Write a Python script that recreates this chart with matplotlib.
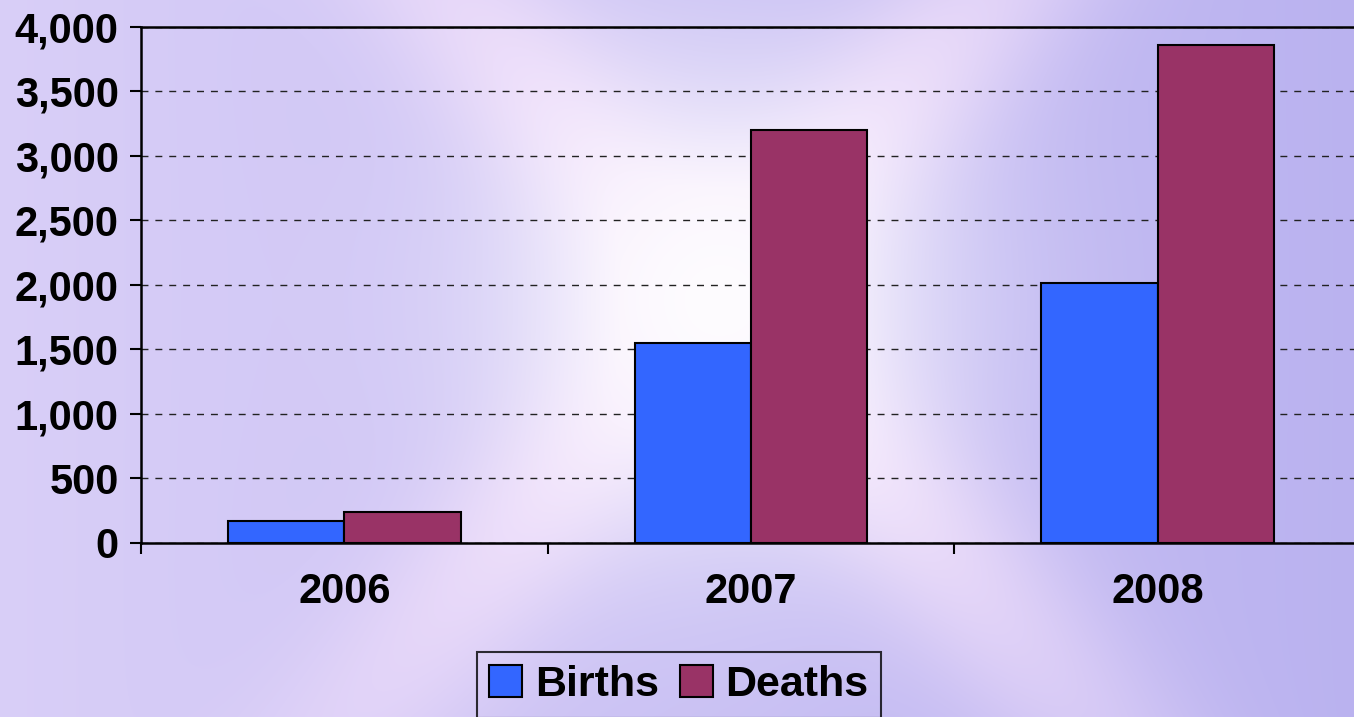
import numpy as np
import matplotlib
matplotlib.use("Agg")
import matplotlib.pyplot as plt
from matplotlib.ticker import FuncFormatter

# data
years = ["2006", "2007", "2008"]
births = [170, 1550, 2015]
deaths = [240, 3200, 3860]
series_names = ["Births", "Deaths"]
series_colors = ["#3366FF", "#993366"]

plt.rcParams['font.family'] = ['Liberation Sans', 'DejaVu Sans']
plt.rcParams['font.weight'] = 'bold'

W, H = 1354, 717
fig = plt.figure(figsize=(W / 100, H / 100), dpi=100)

# lavender backdrop with soft white rays (decoration only)
yy, xx = np.mgrid[0:H, 0:W].astype(float)
cx, cy = 720.0, 300.0
base_l = np.array([0.85, 0.81, 0.97])
base_r = np.array([0.73, 0.70, 0.94])
t = (xx / W)[..., None]
bg = base_l * (1 - t) + base_r * t
d1 = np.abs((xx - cx) * 0.75 - (yy - cy) * 0.66)
d2 = np.abs((xx - cx) * 0.75 + (yy - cy) * 0.66)
r = np.hypot(xx - cx, yy - cy)
rays = np.exp(-(d1 / 90) ** 2) + np.exp(-(d2 / 90) ** 2)
rays = np.clip(rays * np.exp(-(r / 650) ** 2), 0, 1)
pink = np.array([0.98, 0.90, 0.99])
bg = bg * (1 - 0.8 * rays[..., None]) + pink * 0.8 * rays[..., None]
core = np.exp(-(r / 230) ** 2)[..., None]
bg = bg * (1 - 0.9 * core) + 0.9 * core
bax = fig.add_axes([0, 0, 1, 1], zorder=-1)
bax.imshow(np.clip(bg, 0, 1), aspect='auto', interpolation='bilinear')
bax.axis('off')

ax = fig.add_axes([141 / W, 1 - 543 / H, (1361 - 141) / W, (543 - 26.7) / H])
ax.patch.set_alpha(0)

x = np.arange(len(years))
w = 0.286
ax.bar(x - w / 2, births, w, color=series_colors[0], edgecolor='black', linewidth=1.5,
       label=series_names[0], zorder=3)
ax.bar(x + w / 2, deaths, w, color=series_colors[1], edgecolor='black', linewidth=1.5,
       label=series_names[1], zorder=3)

ax.set_xlim(-0.5, 2.5)
ax.set_ylim(0, 4000)
ax.set_yticks(np.arange(0, 4001, 500))
ax.yaxis.set_major_formatter(FuncFormatter(lambda v, p: f"{int(v):,}"))
ax.set_xticks(x)
ax.set_xticklabels(years)
ax.set_xticks([-0.5, 0.5, 1.5, 2.5], minor=True)
ax.tick_params(axis='x', which='major', length=0, pad=21, labelsize=30)
ax.tick_params(axis='x', which='minor', length=8, width=1.5, direction='out')
ax.tick_params(axis='y', length=8, width=1.5, direction='out', pad=8, labelsize=30)
for lab in ax.get_xticklabels() + ax.get_yticklabels():
    lab.set_fontweight('bold')

ax.yaxis.grid(True, linestyle=(0, (5, 5)), color='#222222', linewidth=1.0, zorder=1)
for s in ax.spines.values():
    s.set_linewidth(1.8)

leg = fig.legend(loc='upper center', bbox_to_anchor=(0.5015, 1 - 652 / H), ncol=2,
                 frameon=True, fancybox=False, edgecolor='black', facecolor='none',
                 prop={'size': 31, 'weight': 'bold'}, handlelength=0.75, handleheight=0.75,
                 handletextpad=0.3, columnspacing=0.5, borderpad=0.3, borderaxespad=0)
leg.get_frame().set_linewidth(1.5)

fig.savefig("out.png", dpi=100)
